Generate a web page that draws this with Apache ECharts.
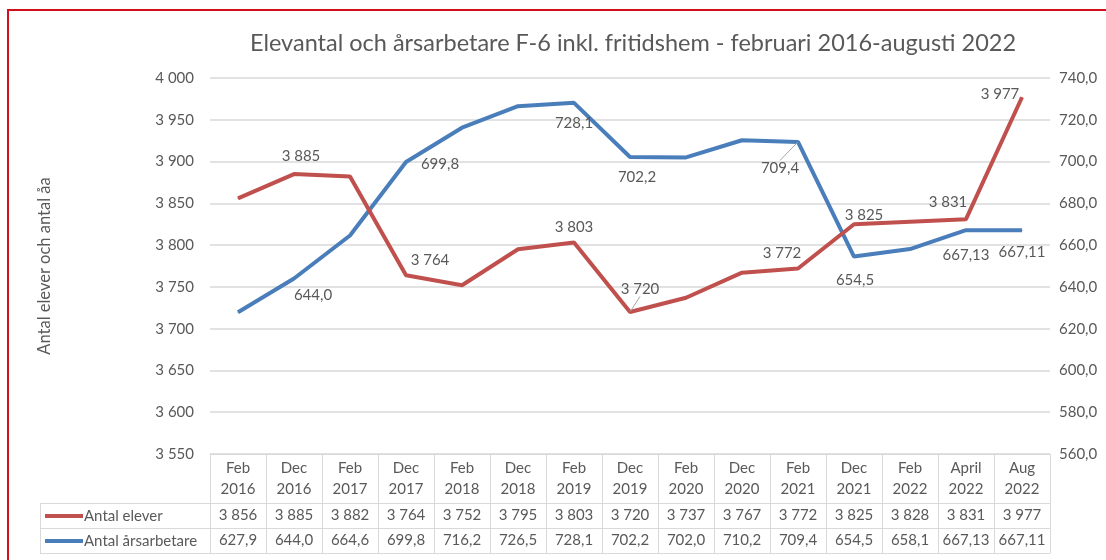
<!DOCTYPE html>
<html><head><meta charset="utf-8">
<script src="https://cdn.jsdelivr.net/npm/echarts@6/dist/echarts.min.js"></script>
<style>html,body{margin:0;padding:0;background:#fff}#c{width:1106px;height:560px}</style>
</head><body><div id="c"></div>
<script>
const title = 'Elevantal och årsarbetare F-6 inkl. fritidshem - februari 2016-augusti 2022';
const yAxisName = 'Antal elever och antal åa';
const categories = ['Feb\n2016','Dec\n2016','Feb\n2017','Dec\n2017','Feb\n2018','Dec\n2018','Feb\n2019','Dec\n2019','Feb\n2020','Dec\n2020','Feb\n2021','Dec\n2021','Feb\n2022','April\n2022','Aug\n2022'];
const seriesNames = ['Antal elever', 'Antal årsarbetare'];
const elever = [3856,3885,3882,3764,3752,3795,3803,3720,3737,3767,3772,3825,3828,3831,3977];
const arsarbetare = [627.9,644.0,664.6,699.8,716.2,726.5,728.1,702.2,702.0,710.2,709.4,654.5,658.1,667.13,667.11];

const RED = '#c0504d', BLUE = '#4a7ebb', TXT = '#595959', GRID = '#d9d9d9';
const FONT = 'Lato';

function fmtThousand(v){ return String(v).replace(/\B(?=(\d{3})+(?!\d))/g, ' '); }
function fmtDec(v){ const d = Math.max(1, (String(v).split('.')[1]||'').length); return v.toFixed(d).replace('.', ','); }

// label offsets (styling) for the labelled points
const redLabelPos = {1:[7,-18],3:[24,-15],6:[0,-15],7:[10,-23],10:[-16,-15],11:[10,-9],13:[-18,-17],14:[-22,-3]};
const blueLabelPos = {1:[19,17],3:[34,2],6:[0,20],7:[7,20],10:[-18,26],11:[1,24],13:[0,25],14:[0,22]};
const leaderRed = [7], leaderBlue = [10];

function mkData(vals, posMap, leaders, fmt){
  return vals.map((v,i)=>({
    value: v,
    label: {show: posMap[i] !== undefined, formatter: ()=>fmt(v)},
    labelLine: {show: leaders.indexOf(i) >= 0, lineStyle:{color:'#a6a6a6', width:1}}
  }));
}

const chart = echarts.init(document.getElementById('c'), null, {renderer:'canvas'});
const lbl = {fontFamily: FONT, fontSize: 15, color: TXT};
const xBase = {type:'category', data: categories, boundaryGap: true, gridIndex: 0, position:'bottom'};

chart.setOption({
  animation: false,
  textStyle: {fontFamily: FONT},
  title: {text: title, left: 628, top: 26, textAlign: 'center',
    textStyle: {fontFamily: FONT, fontSize: 23.5, fontWeight: 'normal', color: TXT}},
  grid: {left: 210, right: 56, top: 78, bottom: 106, containLabel: false},
  xAxis: [
    Object.assign({}, xBase, {
      axisLine: {show: true, lineStyle: {color: GRID, width: 1}},
      axisTick: {show: true, interval: 0, length: 99, lineStyle: {color: GRID, width: 1}},
      axisLabel: Object.assign({interval: 0, margin: 4, lineHeight: 21}, lbl)
    }),
    Object.assign({}, xBase, {offset: 49,
      axisLine: {show: true, lineStyle: {color: GRID, width: 1}},
      axisTick: {show: false},
      axisLabel: Object.assign({interval: 0, margin: 5, formatter: (v,i)=>fmtThousand(elever[i])}, lbl)
    }),
    Object.assign({}, xBase, {offset: 74,
      axisLine: {show: true, lineStyle: {color: GRID, width: 1}},
      axisTick: {show: false},
      axisLabel: Object.assign({interval: 0, margin: 5, formatter: (v,i)=>fmtDec(arsarbetare[i])}, lbl)
    }),
    Object.assign({}, xBase, {offset: 99,
      axisLine: {show: true, lineStyle: {color: GRID, width: 1}},
      axisTick: {show: false}, axisLabel: {show: false}
    })
  ],
  yAxis: [
    {type:'value', min: 3550, max: 4000, interval: 50, position:'left',
     name: yAxisName, nameLocation: 'middle', nameGap: 157, nameRotate: 90,
     nameTextStyle: {fontFamily: FONT, fontSize: 16.5, color: TXT},
     axisLine: {show: false}, axisTick: {show: false},
     axisLabel: Object.assign({margin: 16, formatter: v=>fmtThousand(v)}, lbl),
     splitLine: {show: true, lineStyle: {color: GRID, width: 1.5}}},
    {type:'value', min: 560, max: 740, interval: 20, position:'right',
     axisLine: {show: false}, axisTick: {show: false},
     axisLabel: Object.assign({margin: 9, formatter: v=>v.toFixed(1).replace('.', ',')}, lbl),
     splitLine: {show: false}}
  ],
  series: [
    {name: seriesNames[0], type:'line', xAxisIndex: 0, yAxisIndex: 0,
     data: mkData(elever, redLabelPos, leaderRed, fmtThousand),
     symbol: 'circle', symbolSize: 1, itemStyle: {color: RED},
     lineStyle: {color: RED, width: 4}, z: 3,
     label: Object.assign({position: 'inside'}, lbl),
     labelLayout: p => { const o = redLabelPos[p.dataIndex]; return o ? {dx: o[0], dy: o[1]} : {}; }},
    {name: seriesNames[1], type:'line', xAxisIndex: 0, yAxisIndex: 1,
     data: mkData(arsarbetare, blueLabelPos, leaderBlue, fmtDec),
     symbol: 'circle', symbolSize: 1, itemStyle: {color: BLUE},
     lineStyle: {color: BLUE, width: 4}, z: 2,
     label: Object.assign({position: 'inside'}, lbl),
     labelLayout: p => { const o = blueLabelPos[p.dataIndex]; return o ? {dx: o[0], dy: o[1]} : {}; }}
  ],
  graphic: [
    {type:'rect', shape:{x:8, y:10, width:1300, height:700}, style:{fill:'none', stroke:'#d0101a', lineWidth:2}, silent:true},
    {type:'line', shape:{x1:40, y1:503.5, x2:210, y2:503.5}, style:{stroke: GRID, lineWidth:1}},
    {type:'line', shape:{x1:40, y1:528.5, x2:210, y2:528.5}, style:{stroke: GRID, lineWidth:1}},
    {type:'line', shape:{x1:40, y1:553.5, x2:210, y2:553.5}, style:{stroke: GRID, lineWidth:1}},
    {type:'line', shape:{x1:40.5, y1:503, x2:40.5, y2:554}, style:{stroke: GRID, lineWidth:1}},
    {type:'line', shape:{x1:45, y1:516, x2:83, y2:516}, style:{stroke: RED, lineWidth:4}},
    {type:'line', shape:{x1:45, y1:541, x2:83, y2:541}, style:{stroke: BLUE, lineWidth:4}},
    {type:'text', x:84, y:516, style:{text: seriesNames[0], fill: TXT, font: '15px ' + FONT, textVerticalAlign:'middle'}},
    {type:'text', x:84, y:541, style:{text: seriesNames[1], fill: TXT, font: '15px ' + FONT, textVerticalAlign:'middle'}}
  ]
});
</script></body></html>
